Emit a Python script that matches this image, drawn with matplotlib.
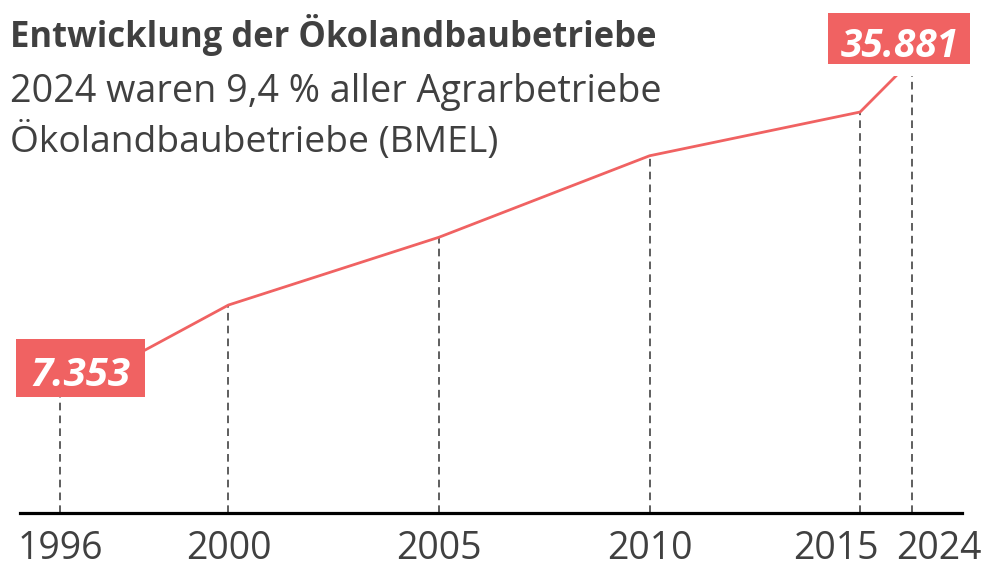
import matplotlib
matplotlib.use("Agg")
import matplotlib.pyplot as plt
import matplotlib.transforms as mtransforms
from matplotlib.path import Path

plt.rcParams['font.family'] = ['Open Sans', 'DejaVu Sans']

# Daten
jahre = [1996, 2000, 2005, 2010, 2015, 2024]
betriebe = [7353, 13070, 17330, 22450, 25200, 28500]
beschriftung = ["7.353", "35.881"]

titel = "Entwicklung der Ökolandbaubetriebe"
untertitel = ["2024 waren 9,4 % aller Agrarbetriebe", "Ökolandbaubetriebe (BMEL)"]

rot = "#f06262"
grau = "#404040"

# die Grafik rückt 2024 direkt neben 2015
x_pos = jahre[:-1] + [jahre[-2] + 1.24]


def kasten(seite, oben, unten):
    # Rechteck mit unterschiedlichem Innenabstand (Anteile der Schriftgröße)
    def style(x0, y0, w, h, m):
        l, r = x0 - seite * m, x0 + w + seite * m
        b, t = y0 - unten * m, y0 + h + oben * m
        return Path([(l, b), (r, b), (r, t), (l, t), (l, b)], closed=True)
    return style


fig = plt.figure(figsize=(9.9, 5.82), dpi=100)
ax = fig.add_axes([20 / 990, 69 / 582, 942 / 990, 513 / 582])
ax.set_xlim(1995.05, 2017.42)
ax.set_ylim(0, 32240)

ax.vlines(x_pos, 0, betriebe, colors="#333333", linewidth=1.1,
          linestyles=(0, (5, 3.4)), zorder=1)
ax.plot(x_pos, betriebe, color=rot, linewidth=2.0, zorder=2,
        solid_capstyle="butt")

for s in ["top", "right", "left"]:
    ax.spines[s].set_visible(False)
ax.spines["bottom"].set_linewidth(2.3)
ax.spines["bottom"].set_color("black")
ax.set_yticks([])
ax.set_xticks(x_pos)
ax.set_xticklabels([str(j) for j in jahre])
ax.tick_params(axis="x", length=0, pad=12, labelsize=27, labelcolor=grau)

# die letzten beiden Jahreszahlen auseinanderschieben
lbls = ax.get_xticklabels()
lbls[-2].set_transform(lbls[-2].get_transform() + mtransforms.ScaledTranslation(-24 / 100, 0, fig.dpi_scale_trans))
lbls[-1].set_transform(lbls[-1].get_transform() + mtransforms.ScaledTranslation(27 / 100, 0, fig.dpi_scale_trans))

# Wertekästen
box_font = dict(fontweight="bold", fontstyle="italic", color="white")
ax.annotate(beschriftung[0], xy=(x_pos[0], betriebe[0]), xytext=(-30, 1),
            textcoords="offset pixels", ha="left", va="bottom", zorder=5,
            fontsize=29,
            bbox=dict(boxstyle=kasten(0.36, 0.41, 0.05), fc=rot, ec="none"),
            **box_font)

# weißer Rand um den oberen Kasten, verdeckt das Linienende
ax.annotate(beschriftung[1], xy=(x_pos[-1], betriebe[-1]), xytext=(-13, -6.5),
            textcoords="offset pixels", ha="center", va="bottom", zorder=4,
            fontsize=28,
            bbox=dict(boxstyle=kasten(0.5, 0.37, 0.25), fc="white", ec="none"),
            **box_font)
ax.annotate(beschriftung[1], xy=(x_pos[-1], betriebe[-1]), xytext=(-13, -6.5),
            textcoords="offset pixels", ha="center", va="bottom", zorder=5,
            fontsize=28,
            bbox=dict(boxstyle=kasten(0.31, 0.37, -0.05), fc=rot, ec="none"),
            **box_font)

fig.text(10 / 990, 1 - 47 / 582, titel, fontsize=24.9, fontweight="bold",
         color=grau, va="baseline", ha="left")
fig.text(10 / 990, 1 - 102 / 582, untertitel[0], fontsize=27.2,
         color=grau, va="baseline", ha="left")
fig.text(10 / 990, 1 - 152 / 582, untertitel[1], fontsize=26.8,
         color=grau, va="baseline", ha="left")

fig.savefig("out.png", dpi=100)
